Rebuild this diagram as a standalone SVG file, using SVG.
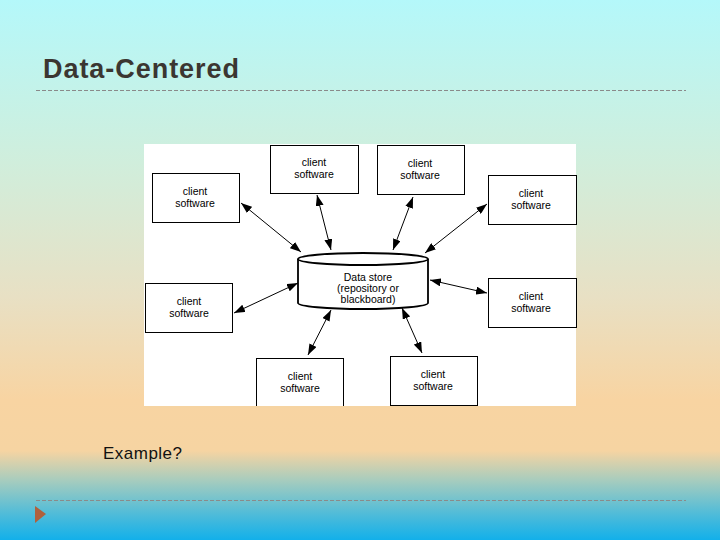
<svg xmlns="http://www.w3.org/2000/svg" width="720" height="540" viewBox="0 0 720 540">
<defs>
<linearGradient id="bg" x1="0" y1="0" x2="0" y2="1">
<stop offset="0" stop-color="#b4f8fa"/>
<stop offset="0.3" stop-color="#d0eedc"/>
<stop offset="0.55" stop-color="#e8e0c4"/>
<stop offset="0.74" stop-color="#f8d4a2"/>
<stop offset="0.835" stop-color="#f6d4a2"/>
<stop offset="0.89" stop-color="#a6ccbe"/>
<stop offset="0.95" stop-color="#52bcd8"/>
<stop offset="1" stop-color="#12b0ea"/>
</linearGradient>
<marker id="ah" viewBox="0 0 11 8" refX="11" refY="4" markerWidth="11" markerHeight="8" markerUnits="userSpaceOnUse" orient="auto-start-reverse">
<path d="M0,0 L11,4 L0,8 z" fill="#000"/>
</marker>
<style>
.box{fill:#fff;stroke:#000;stroke-width:1}
.lbl{font-family:"Liberation Sans",Arial,sans-serif;font-size:10.5px;fill:#000;text-anchor:middle}
.conn{stroke:#000;stroke-width:1;fill:none;marker-start:url(#ah);marker-end:url(#ah)}
.rule{stroke:#8a8a8a;stroke-width:1;stroke-dasharray:4 2}
</style>
</defs>
<rect width="720" height="540" fill="url(#bg)"/>
<text x="43" y="78" font-family="'Liberation Sans',Arial,sans-serif" font-weight="bold" font-size="27" fill="#3b3631" textLength="196">Data-Centered</text>
<line class="rule" x1="36" y1="90.5" x2="686" y2="90.5"/>
<rect x="144" y="144" width="432" height="262" fill="#fff"/>
<g id="connectors">
<line class="conn" x1="241" y1="203" x2="301" y2="252"/>
<line class="conn" x1="317" y1="195" x2="331" y2="250"/>
<line class="conn" x1="413" y1="197" x2="393" y2="250"/>
<line class="conn" x1="487" y1="204" x2="425" y2="253"/>
<line class="conn" x1="234" y1="313" x2="298" y2="283"/>
<line class="conn" x1="430" y1="280" x2="487" y2="293"/>
<line class="conn" x1="331" y1="310" x2="308" y2="355"/>
<line class="conn" x1="402" y1="308" x2="422" y2="353"/>
</g>
<g id="datastore">
<path d="M298,259 L298,303 A65,6 0 0 0 428,303 L428,259" fill="#fff" stroke="#000" stroke-width="1.8"/>
<ellipse cx="363" cy="259" rx="65" ry="6" fill="#fff" stroke="#000" stroke-width="1.8"/>
<text class="lbl" x="368" y="281">Data store</text>
<text class="lbl" x="368" y="292">(repository or</text>
<text class="lbl" x="368" y="303">blackboard)</text>
</g>
<g id="client1"><rect class="box" x="270.5" y="145.5" width="88" height="48"/><text class="lbl" x="314" y="166">client</text><text class="lbl" x="314" y="178">software</text></g>
<g id="client2"><rect class="box" x="377.5" y="145.5" width="87" height="49"/><text class="lbl" x="420" y="167">client</text><text class="lbl" x="420" y="179">software</text></g>
<g id="client3"><rect class="box" x="152.5" y="173.5" width="87" height="49"/><text class="lbl" x="195" y="195">client</text><text class="lbl" x="195" y="207">software</text></g>
<g id="client4"><rect class="box" x="488.5" y="175.5" width="88" height="49"/><text class="lbl" x="531" y="197">client</text><text class="lbl" x="531" y="209">software</text></g>
<g id="client5"><rect class="box" x="145.5" y="283.5" width="87" height="49"/><text class="lbl" x="189" y="305">client</text><text class="lbl" x="189" y="317">software</text></g>
<g id="client6"><rect class="box" x="488.5" y="278.5" width="88" height="49"/><text class="lbl" x="531" y="300">client</text><text class="lbl" x="531" y="312">software</text></g>
<g id="client7"><rect class="box" x="256.5" y="358.5" width="87" height="49"/><text class="lbl" x="300" y="380">client</text><text class="lbl" x="300" y="392">software</text></g>
<g id="client8"><rect class="box" x="390.5" y="356.5" width="87" height="49"/><text class="lbl" x="433" y="378">client</text><text class="lbl" x="433" y="390">software</text></g>
<rect x="144" y="406" width="432" height="2" fill="#f6d4a2"/>
<text x="103" y="459" font-family="'Liberation Sans',Arial,sans-serif" font-size="17" fill="#111" textLength="79">Example?</text>
<line class="rule" x1="36" y1="500.5" x2="686" y2="500.5"/>
<path d="M35,506 L46,514 L35,523 z" fill="#b0603c"/>
</svg>
